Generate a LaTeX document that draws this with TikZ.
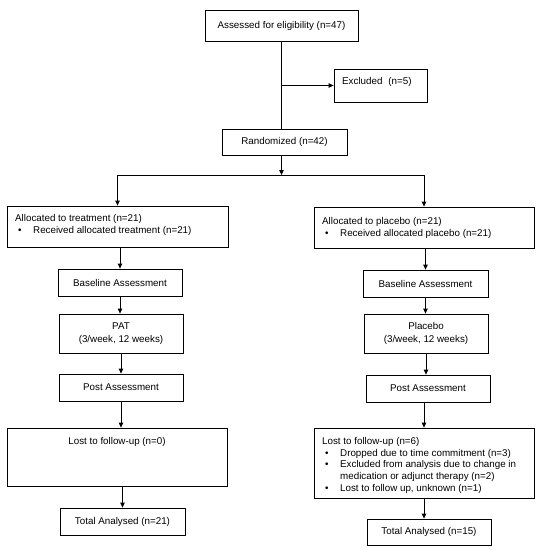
\documentclass[tikz,border=0pt]{standalone}
\usepackage{fontspec}
\setmainfont{Liberation Sans}
\usetikzlibrary{arrows.meta}
\newcommand\fs{\fontsize{9.8}{11.8}\selectfont}
\newcommand\bul{\hspace*{3pt}\makebox[15pt][l]{\textbullet}}
\begin{document}
\begin{tikzpicture}[x=1pt,y=-1pt,
  box/.style={draw, line width=0.8pt, inner sep=0pt, align=center, font=\fs},
  txt/.style={inner sep=0pt, font=\fs, align=left},
  arr/.style={-{Triangle[length=5pt,width=4.5pt]}, line width=0.8pt},
  ln/.style={line width=0.8pt}]
\useasboundingbox (0,0) rectangle (541,550);
% top part
\node[box, minimum width=153pt, minimum height=31pt] (top) at (281.5,25.5) {Assessed for eligibility (n=47)};
\node[box, minimum width=93pt, minimum height=33pt] (excl) at (380.5,85.5) {};
\node[txt, anchor=base west] (exclt) at (342,84) {Excluded\hspace{0.6em}(n=5)};
\node[box, minimum width=125pt, minimum height=26pt] (rand) at (284.5,142) {Randomized (n=42)};
% allocation
\node[box, minimum width=221pt, minimum height=41pt] (allocL) at (117.5,226.5) {};
\node[txt, anchor=north west] (allocLt) at (15,214) {Allocated to treatment (n=21)\\\bul Received allocated treatment (n=21)};
\node[box, minimum width=220pt, minimum height=41pt] (allocR) at (424,227.5) {};
\node[txt, anchor=north west] (allocRt) at (322,217) {Allocated to placebo (n=21)\\\bul Received allocated placebo (n=21)};
% left column
\node[box, minimum width=124pt, minimum height=27pt] (baseL) at (120,282.5) {Baseline Assessment};
\node[box, minimum width=124pt, minimum height=39pt] (patL) at (121,333.5) {PAT\\[1pt](3/week, 12 weeks)};
\node[box, minimum width=124pt, minimum height=27pt] (postL) at (121,387.5) {Post Assessment};
\node[box, minimum width=220pt, minimum height=58pt] (lostL) at (117,457) {};
\node[txt, anchor=base] (lostLt) at (117,444) {Lost to follow-up (n=0)};
\node[box, minimum width=125pt, minimum height=27pt] (totL) at (122.5,521.5) {Total Analysed (n=21)};
% right column
\node[box, minimum width=125pt, minimum height=27pt] (baseR) at (425.5,283.5) {Baseline Assessment};
\node[box, minimum width=124pt, minimum height=39pt] (plaR) at (426,333.5) {Placebo\\[1pt](3/week, 12 weeks)};
\node[box, minimum width=124pt, minimum height=27pt] (postR) at (428,388.5) {Post Assessment};
\node[box, minimum width=220pt, minimum height=70pt] (lostR) at (424,463) {};
\node[txt, anchor=north west] (lostRt) at (322,437) {Lost to follow-up (n=6)\\
\bul Dropped due to time commitment (n=3)\\
\bul Excluded from analysis due to change in\\
\hspace*{18pt}medication or adjunct therapy (n=2)\\
\bul Lost to follow up, unknown (n=1)};
\node[box, minimum width=124pt, minimum height=26pt] (totR) at (429,532) {Total Analysed (n=15)};
% connectors top
\coordinate (j1) at (top.south |- excl.west);
\coordinate (split) at (top.south |- 0,175);
\draw[ln] (top.south) -- (top.south |- rand.north);
\draw[arr] (j1) -- (excl.west);
\draw[arr] (top.south |- rand.south) -- (split);
\draw[ln] (allocL.north |- split) -- (allocR.north |- split);
\draw[arr] (allocL.north |- split) -- (allocL.north);
\draw[arr] (allocR.north |- split) -- (allocR.north);
% left column connectors
\draw[arr] (allocL.south -| baseL.north) -- (baseL.north);
\draw[arr] (baseL.south) -- (baseL.south |- patL.north);
\draw[arr] (patL.south) -- (postL.north);
\draw[arr] (postL.south) -- (postL.south |- lostL.north);
\draw[arr] (lostL.south -| totL.north) -- (totL.north);
% right column connectors
\draw[arr] (allocR.south -| baseR.north) -- (baseR.north);
\draw[arr] (baseR.south) -- (baseR.south |- plaR.north);
\draw[arr] (plaR.south) -- (plaR.south |- postR.north);
\draw[arr] (postR.south -| lostR.north) -- (lostR.north);
\draw[arr] (lostR.south) -- (lostR.south |- totR.north);
\end{tikzpicture}
\end{document}
